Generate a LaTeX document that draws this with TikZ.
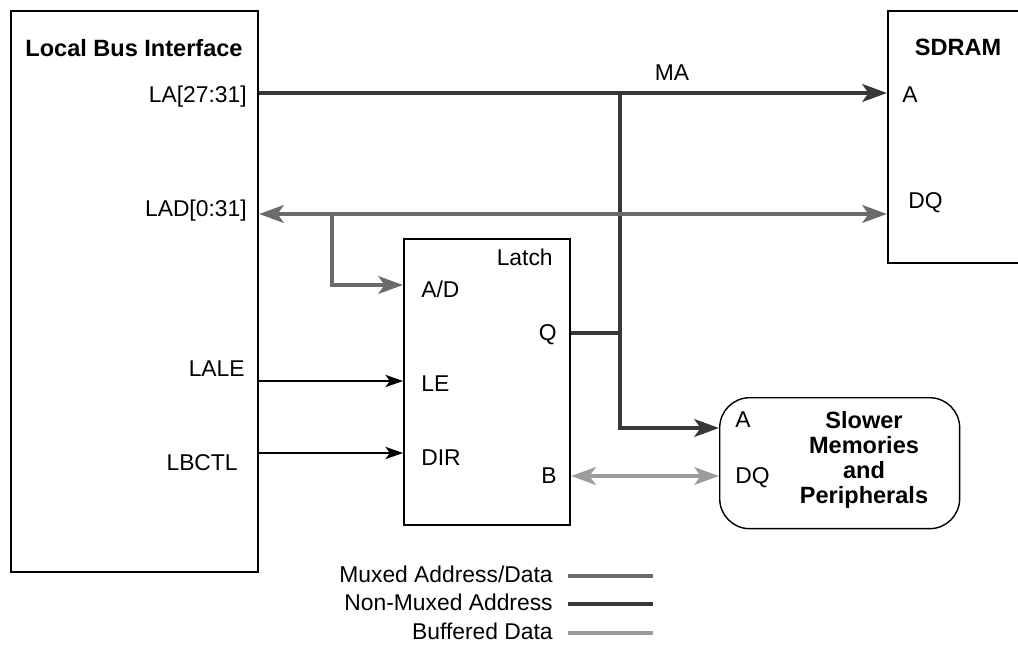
\documentclass[tikz,border=0pt]{standalone}
\usepackage{fontspec}
\setmainfont{Liberation Sans}
\usetikzlibrary{positioning,arrows.meta,calc}
\definecolor{muxgray}{HTML}{6B6B6B}
\definecolor{addrgray}{HTML}{383838}
\definecolor{bufgray}{HTML}{9C9C9C}
\tikzset{
  blk/.style={draw,line width=1.2pt,inner sep=0pt,anchor=north west},
  lbl/.style={inner sep=0pt,font=\fontsize{13}{14.2}\selectfont},
  lblb/.style={inner sep=0pt,font=\fontsize{13.4}{14.2}\selectfont\bfseries},
  sig/.style={line width=1.1pt,-{Stealth[length=10pt,width=7pt,inset=2.5pt]}},
  muxbus/.style={line width=2.4pt,muxgray},
  addrbus/.style={line width=2.4pt,addrgray},
  bufbus/.style={line width=2.4pt,bufgray},
  tip/.style={-{Stealth[length=14pt,width=10pt,inset=3.5pt]}},
  tips/.style={{Stealth[length=14pt,width=10pt,inset=3.5pt]}-{Stealth[length=14pt,width=10pt,inset=3.5pt]}},
}

\begin{document}
\begin{tikzpicture}[x=0.02cm,y=-0.02cm]
\useasboundingbox (0,0) rectangle (1018,646);
% --- blocks ---
\node[blk,minimum width=4.94cm,minimum height=11.22cm] (lbi) at (10,10) {};
\node[blk,minimum width=3.2cm,minimum height=5.04cm] (sdram) at (887,10) {};
\node[blk,minimum width=3.32cm,minimum height=5.72cm] (latch) at (403,238) {};
\node[blk,line width=0.8pt,rounded corners=0.6cm,minimum width=4.8cm,minimum height=2.62cm] (slow) at (719,397) {};
% --- block texts ---
\node[lblb,anchor=base] (lbiname) at (134,56) {Local Bus Interface};
\node[lbl,anchor=base east] (la) at (247,102) {LA[27:31]};
\node[lbl,anchor=base east] (lad) at (247,216) {LAD[0:31]};
\node[lbl,anchor=base east] (lale) at (245,376) {LALE};
\node[lbl,anchor=base east] (lbctl) at (238,470) {LBCTL};
\node[lbl,anchor=base east] (latchname) at (553,265) {Latch};
\node[lbl,anchor=base west] (ad) at (421,297) {A/D};
\node[lbl,anchor=base east] (q) at (557,340) {Q};
\node[lbl,anchor=base west] (le) at (421,391) {LE};
\node[lbl,anchor=base west] (dir) at (421,465) {DIR};
\node[lbl,anchor=base east] (b) at (557,483) {B};
\node[lblb,anchor=base] (sdramname) at (958,55) {SDRAM};
\node[lbl,anchor=base west] (sda) at (902,102) {A};
\node[lbl,anchor=base west] (sddq) at (908,208) {DQ};
\node[lbl,anchor=base west] (sla) at (735,427) {A};
\node[lbl,anchor=base west] (sldq) at (735,483) {DQ};
\node[lblb,align=center] (slowname) at (864,460) {Slower\\Memories\\and\\Peripherals};
\node[lbl,anchor=base] (ma) at (672,80) {MA};
% --- bus levels ---
\coordinate (yma) at (0,93);
\coordinate (ylad) at (0,214);
\coordinate (yad) at (0,285);
\coordinate (yq) at (0,333);
\coordinate (yle) at (0,381);
\coordinate (ydir) at (0,453);
\coordinate (yb) at (0,476);
\coordinate (ysla) at (0,428);
\coordinate (tap) at (620,93);
\coordinate (brk) at (332,214);
% --- connectors ---
\draw[addrbus,tip] (lbi.east |- yma) -- (sdram.west |- yma);
\draw[addrbus,tip] (tap) |- (slow.west |- ysla);
\draw[addrbus] (latch.east |- yq) -- (tap |- yq);
\draw[muxbus,tips] (lbi.east |- ylad) -- (sdram.west |- ylad);
\draw[muxbus,tip] (brk) |- (latch.west |- yad);
\draw[sig] (lbi.east |- yle) -- (latch.west |- yle);
\draw[sig] (lbi.east |- ydir) -- (latch.west |- ydir);
\draw[bufbus,tips] (latch.east |- yb) -- (slow.west |- yb);
% --- legend ---
\node[lbl,anchor=base east] (lgmux) at (553,582) {Muxed Address/Data};
\node[lbl,anchor=base east] (lgaddr) at (553,610) {Non-Muxed Address};
\node[lbl,anchor=base east] (lgbuf) at (553,639) {Buffered Data};
\draw[muxbus] (568,576) -- (653,576);
\draw[addrbus] (568,604) -- (653,604);
\draw[bufbus] (568,633) -- (653,633);
\end{tikzpicture}
\end{document}
